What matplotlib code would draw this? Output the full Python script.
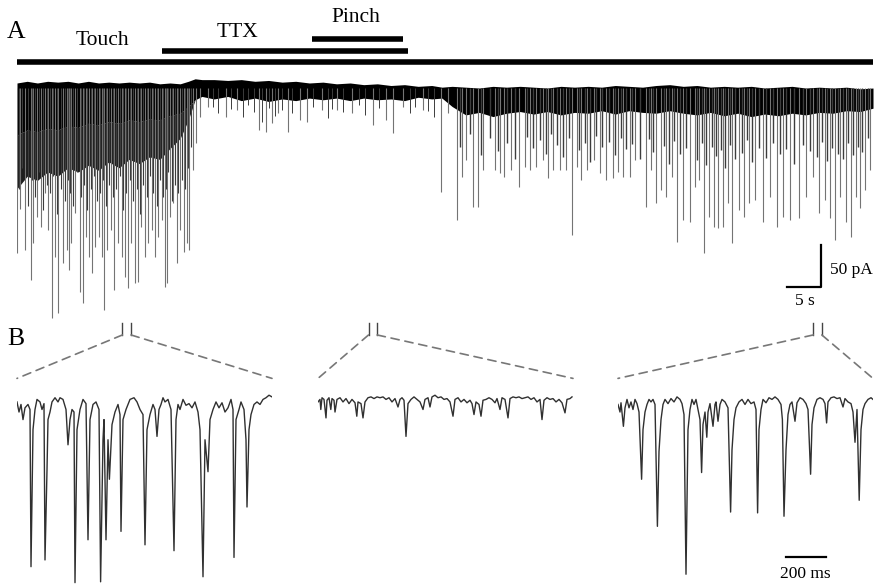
import matplotlib.pyplot as plt
from matplotlib.patches import ConnectionPatch

# ---------------- panel A: whole recording (time in s, current in pA) ----------------
# noise band: top edge and bottom of the solid black part
band_t = [0, 1.5, 3, 4.5, 6, 7.5, 9, 10.5, 12, 13.5,
          15, 16.5, 18, 19.5, 21, 22.5, 24, 25.2, 26.2, 27.2,
          29, 31, 33, 35, 37, 39, 41, 43, 45, 47,
          49, 51, 53, 55, 57, 59, 61, 62.5, 64, 66,
          68, 70, 72, 74, 76, 78, 80, 82, 84, 86,
          88, 90, 92, 94, 96, 98, 100, 102, 104, 106,
          108, 110, 112, 114, 116, 118, 120, 122, 124, 125.9]
band_top = [6, 8, 6, 8, 7, 8, 6, 8, 6, 7,
            6, 7, 6, 7, 5, 6, 5, 8, 11, 10,
            10, 9, 10, 8, 9, 7, 8, 6, 7, 5,
            6, 4, 5, 3, 4, 2, 3, 1, 2, 1,
            0, 2, 1, 2, 1, 0, 2, 1, 2, 1,
            3, 2, 1, 3, 4, 2, 3, 1, 2, 1,
            2, 0, 1, 2, 0, 1, 0, 1, -1, 0]
band_low = [-56, -50, -52, -48, -50, -45, -47, -42, -44, -40,
            -42, -38, -40, -37, -38, -33, -30, -22, -14, -10,
            -13, -10, -15, -12, -16, -13, -15, -12, -14, -12,
            -15, -12, -14, -13, -15, -11, -13, -12, -22, -32,
            -29, -34, -30, -28, -31, -28, -32, -29, -30, -27,
            -31, -27, -29, -30, -27, -30, -32, -29, -33, -30,
            -34, -31, -33, -30, -32, -29, -30, -27, -28, -24]
# dark overlap zone during touch (first 20 band points)
touch_dense = [-120, -105, -110, -100, -105, -95, -100, -92, -98, -88,
               -95, -85, -90, -82, -85, -72, -60, -38, -14, -10]

# large events (peak time, peak amplitude)
touch_t = [0.0, 0.5, 1.2, 2.0, 2.4, 3.0, 3.6, 4.1, 4.6, 5.1, 5.6, 6.1, 6.7, 7.3, 7.6, 8.0,
           8.5, 9.2, 9.7, 10.1, 10.6, 11.1, 11.5, 12.0, 12.5, 12.8, 13.3, 13.8, 14.3, 14.9,
           15.4, 15.9, 16.3, 16.8, 17.4, 17.8, 18.3, 18.8, 19.3, 19.8, 20.3, 20.8, 21.3,
           21.7, 22.0, 22.5, 23.0, 23.5, 24.0, 24.5, 25.0, 25.3, 25.9, 26.4, 26.9]
touch_i = [-196, -144, -193, -228, -184, -154, -165, -125, -169, -274, -201, -268, -208,
           -193, -217, -184, -149, -243, -256, -177, -201, -220, -189, -177, -201, -264,
           -193, -169, -240, -184, -201, -225, -238, -184, -232, -231, -165, -201, -184,
           -169, -201, -177, -157, -237, -232, -154, -137, -208, -169, -195, -184, -193,
           -98, -65, -35]
ttx_t = [28.1, 30.8, 32.3, 35.6, 36.6, 37.5, 38.4, 39.8, 41.6, 42.6, 44.8, 47.0, 49.2,
         52.4, 54.3, 55.3, 56.8, 59.7, 62.3, 63.4]
ttx_i = [-23, -35, -26, -50, -52, -42, -30, -52, -38, -40, -26, -26, -30, -44, -38, -54,
         -23, -26, -124, -30]
pinch_t = [64.7, 65.5, 66.1, 67.1, 67.8, 68.6, 70.3, 71.0, 71.6, 72.7, 73.9, 74.7, 75.4,
           76.3, 77.4, 78.1, 78.9, 79.9, 80.8, 81.6, 82.3, 83.0, 83.9, 84.8, 85.7, 86.6,
           87.6, 88.4, 89.2, 90.1, 90.9, 92.5, 93.3, 94.0, 94.7, 95.5, 96.3, 97.1, 97.9,
           99.0, 99.7, 100.3, 101.0, 101.8, 102.5, 103.1, 103.9, 104.6, 105.1, 106.2, 106.9,
           107.7, 108.5, 109.7, 110.7, 111.8, 112.6, 113.7, 115.0, 116.1, 117.1, 118.0,
           118.8, 119.6, 120.3, 121.1, 121.9, 122.6, 123.4, 124.0, 124.7, 125.4]
pinch_i = [-157, -106, -86, -142, -142, -98, -98, -101, -106, -98, -118, -94, -98, -94,
           -86, -107, -98, -98, -98, -175, -94, -109, -98, -86, -101, -109, -107, -100,
           -106, -106, -86, -142, -98, -137, -121, -130, -106, -183, -157, -159, -118,
           -109, -196, -154, -165, -167, -165, -137, -184, -145, -154, -137, -133, -159,
           -130, -165, -154, -157, -155, -130, -106, -149, -133, -155, -181, -130, -159,
           -177, -130, -143, -121, -98]

# smaller events in between
touch_minor_t = [0.25, 0.8, 1.6, 2.2, 2.7, 3.3, 3.8, 4.35, 4.85, 5.35,
                 5.85, 6.4, 7.0, 7.45, 7.8, 8.25, 8.85, 9.45, 9.9, 10.35,
                 10.85, 11.3, 11.75, 12.25, 12.65, 13.05, 13.55, 14.05, 14.6, 15.15,
                 15.65, 16.1, 16.55, 17.1, 17.6, 18.05, 18.55, 19.05, 19.55, 20.05,
                 20.55, 21.05, 21.5, 21.85, 22.25, 22.75, 23.25, 23.75, 24.25, 24.75,
                 25.15, 25.6]
touch_minor_i = [-120, -95, -140, -110, -130, -100, -145, -115, -125, -105,
                 -150, -120, -135, -110, -125, -140, -100, -130, -115, -145,
                 -120, -105, -135, -125, -110, -140, -115, -130, -120, -105,
                 -145, -125, -110, -135, -120, -150, -115, -130, -105, -125,
                 -140, -110, -130, -120, -100, -135, -115, -125, -110, -120,
                 -95, -70]
ttx_minor_t = [28.9, 29.6, 31.5, 33.2, 34.0, 34.8, 36.0, 37.0, 38.0, 39.0, 40.5,
               43.5, 45.8, 46.3, 48.0, 50.3, 51.2, 53.3, 57.8, 58.6, 60.5, 61.3]
ttx_minor_i = [-22, -30, -25, -35, -20, -28, -40, -24, -33, -26, -30,
               -22, -36, -25, -28, -20, -32, -24, -30, -22, -27, -34]
pinch_minor_t = [65.1, 66.6, 68.2, 69.5, 70.7, 72.1, 73.3, 75.0, 75.9, 76.9,
                 77.8, 78.5, 79.4, 80.3, 81.2, 82.7, 83.5, 84.3, 85.2, 86.1,
                 87.1, 88.0, 88.8, 89.6, 90.5, 91.7, 92.9, 93.6, 95.1, 95.9,
                 96.7, 97.5, 98.4, 100.0, 100.7, 101.4, 102.2, 102.8, 103.5, 104.2,
                 104.9, 105.6, 106.6, 107.3, 108.1, 109.1, 110.2, 111.2, 112.2, 113.1,
                 114.3, 115.6, 116.6, 117.6, 118.4, 119.2, 119.9, 120.7, 121.5, 122.2,
                 123.0, 123.7, 124.3, 125.1]
pinch_minor_i = [-70, -55, -80, -60, -75, -65, -85, -58, -72, -62,
                 -78, -55, -68, -82, -60, -74, -66, -88, -57, -70,
                 -64, -80, -59, -73, -67, -84, -61, -76, -69, -90,
                 -63, -79, -72, -86, -65, -92, -70, -81, -74, -95,
                 -68, -85, -77, -62, -88, -71, -83, -66, -79, -73,
                 -90, -68, -75, -82, -64, -87, -72, -78, -85, -66,
                 -80, -70, -76, -60]

# stimulus bars (start, end in s)
stim_names = ["Touch", "TTX", "Pinch"]
stim_start = [0.0, 21.3, 43.4]
stim_end = [125.9, 57.5, 56.7]

# start of the three expanded 1.275 s windows shown in B
win_start = [15.5, 51.7, 117.1]
win_len = 1.275

# ---------------- panel B: expanded traces (time in ms, current in pA) ----------------
b1_t = [0, 10, 20, 30, 40, 55, 65, 70, 80, 90, 100, 115, 125, 135, 140, 150, 155, 165, 175,
        190, 205, 215, 230, 245, 255, 265, 275, 285, 290, 300, 315, 330, 345, 355, 365, 380,
        395, 410, 418, 430, 435, 445, 455, 462, 475, 490, 505, 515, 520, 530, 545, 565, 585,
        600, 615, 630, 640, 650, 665, 680, 690, 700, 710, 720, 730, 740, 755, 770, 785, 795,
        805, 815, 830, 845, 860, 875, 890, 905, 915, 930, 940, 955, 965, 980, 995, 1010,
        1025, 1040, 1055, 1070, 1080, 1085, 1095, 1110, 1120, 1135, 1145, 1150, 1160, 1170,
        1185, 1200, 1215, 1230, 1245, 1260, 1275]
b1_i = [2, -10, -1, -19, -5, -1, -7, -194, -31, -7, 5, 2, -7, 0, -186, -79, -19, -10, 2, 7,
        2, 7, 5, -7, -49, -19, -7, -10, -213, -31, -7, 5, 0, -162, -19, -1, 2, -7, -212, -43,
        -19, -162, -43, -90, -25, -10, -1, -13, -152, -19, -7, 5, 7, 2, -7, -13, -168, -31,
        -13, -1, -7, -39, -7, -1, 7, 2, 5, -7, -175, -19, -1, -7, 5, -2, 0, -5, 2, -10, -31,
        -206, -43, -81, -19, -7, 2, -5, 1, -10, -5, 5, -7, -183, -19, -7, 2, -7, -43, -123,
        -31, -13, -1, 2, -1, 5, 7, 10, 8]

b2_t = [0, 10, 14, 20, 30, 40, 45, 55, 64, 70, 80, 85, 95, 110, 125, 140, 155, 170, 185,
        194, 200, 215, 225, 235, 250, 265, 280, 295, 310, 325, 340, 355, 370, 385, 400, 410,
        420, 430, 440, 450, 465, 480, 495, 510, 525, 535, 550, 560, 570, 585, 600, 615, 630,
        645, 660, 675, 685, 700, 715, 730, 745, 760, 770, 780, 790, 805, 815, 825, 840, 855,
        870, 885, 895, 910, 920, 935, 950, 960, 975, 990, 1005, 1020, 1035, 1050, 1065, 1080,
        1095, 1110, 1120, 1130, 1145, 1160, 1175, 1190, 1205, 1220, 1235, 1245, 1260, 1270]
b2_i = [2, 5, -7, 7, 5, -17, 4, 7, -7, 6, 4, -10, 5, 7, 2, 6, 0, 5, 1, -15, 2, 0, -17, 2, 7,
        8, 6, 8, 7, 8, 5, 7, 2, 6, -4, 5, 7, 4, -39, 0, 5, 8, 5, 2, -7, 5, 7, -4, 8, 10, 7, 8,
        5, 6, 2, -15, 5, 7, 2, 5, 1, 4, 0, -13, 2, -1, -15, 4, 5, 7, 5, 1, 6, -7, 7, 5, -17,
        6, 8, 7, 8, 6, 7, 8, 5, 7, 2, 5, -19, 4, 7, 5, 6, 2, 5, 1, -11, 5, 6, 8]

b3_t = [0, 10, 15, 27, 35, 45, 55, 65, 75, 85, 95, 105, 118, 125, 135, 145, 155, 165, 175,
        185, 197, 205, 215, 225, 235, 250, 265, 280, 295, 310, 320, 330, 340, 350, 360, 370,
        380, 390, 400, 410, 418, 425, 435, 444, 450, 460, 475, 485, 490, 500, 510, 520, 535,
        550, 563, 570, 580, 590, 605, 620, 635, 650, 665, 680, 690, 698, 705, 715, 725, 740,
        755, 770, 785, 800, 815, 822, 830, 840, 850, 860, 870, 885, 895, 910, 925, 940, 950,
        963, 970, 980, 995, 1010, 1025, 1035, 1043, 1050, 1065, 1080, 1095, 1110, 1125, 1135,
        1150, 1165, 1175, 1185, 1195, 1206, 1215, 1225, 1235, 1250, 1265, 1275]
b3_i = [-1, -10, 1, -27, -5, 5, -5, 2, -7, 5, 0, -10, -90, -31, -10, -1, 5, 2, 5, -1, -146,
        -57, -19, -1, 5, 0, 6, 2, 8, 5, 0, -13, -203, -31, -7, 5, -1, 5, -7, -19, -82, -25,
        -10, -40, -10, 0, -27, -1, 2, -21, -1, 5, 2, -5, -129, -55, -19, -5, 2, 5, -1, 5, 0,
        2, -7, -130, -31, -7, 5, 1, 7, 5, 8, 5, -1, -19, -134, -55, -13, -1, 2, -21, 1, 7, 5,
        0, -7, -84, -25, -5, 5, 7, 5, 0, -23, 2, 7, 8, 6, 7, -4, 6, 2, 0, -10, -46, -7, -115,
        -31, -7, 0, 5, 7, 5]

serif = "Liberation Serif"

fig = plt.figure(figsize=(8.76, 5.86), dpi=100)

# panel A
axA = fig.add_axes([17 / 876, 1 - 340 / 586, 856 / 876, 340 / 586])
axA.set_xlim(0, 125.9)
axA.set_ylim(-300, 104.8)
axA.axis("off")

light = "#747474"
dark = "#3c3c3c"
axA.vlines(touch_t, 0, touch_i, color=light, lw=0.8)
axA.vlines(ttx_t, 0, ttx_i, color=light, lw=0.8)
axA.vlines(pinch_t, 0, pinch_i, color=light, lw=0.8)
axA.vlines(touch_minor_t, 0, touch_minor_i, color=dark, lw=0.8)
axA.vlines(ttx_minor_t, 0, ttx_minor_i, color=dark, lw=0.7)
axA.vlines(pinch_minor_t, 0, pinch_minor_i, color=dark, lw=1.0)
axA.fill_between(band_t[:20], band_low[:20], touch_dense, color="#1e1e1e", lw=0)
axA.fill_between(band_t, band_top, band_low, color="black", lw=0)

bar_y = [31, 44, 58]
for name, t0, t1, y in zip(stim_names, stim_start, stim_end, bar_y):
    axA.plot([t0, t1], [y, y], color="black", lw=4, solid_capstyle="butt", clip_on=False)
axA.text(12.5, 51, "Touch", ha="center", va="baseline", fontsize=15.5, family=serif)
axA.text(32.4, 61, "TTX", ha="center", va="baseline", fontsize=15.5, family=serif)
axA.text(49.9, 79, "Pinch", ha="center", va="baseline", fontsize=15.5, family=serif)

# scale bar 5 s / 50 pA
axA.plot([113.2, 118.2, 118.2], [-237, -237, -187], color="black", lw=1.6)
axA.text(119.6, -222, "50 pA", ha="left", va="baseline", fontsize=12.5, family=serif)
axA.text(115.9, -258, "5 s", ha="center", va="baseline", fontsize=12.5, family=serif)

fig.text(16 / 876, 1 - 38 / 586, "A", ha="center", va="baseline", fontsize=18.5, family=serif)
fig.text(16 / 876, 1 - 345 / 586, "B", ha="center", va="baseline", fontsize=18.5, family=serif)

# panel B
b_lefts = [17, 318, 618]
traces = [(b1_t, b1_i), (b2_t, b2_i), (b3_t, b3_i)]
axesB = []
for left, (tt, ii) in zip(b_lefts, traces):
    ax = fig.add_axes([left / 876, 0, 255 / 876, 216 / 586])
    ax.set_xlim(0, 1275)
    ax.set_ylim(-217, 40)
    ax.axis("off")
    ax.plot(tt, ii, color="#303030", lw=1.0)
    axesB.append(ax)

# 200 ms scale bar
axesB[2].plot([840, 1040], [-182, -182], color="black", lw=1.6)
axesB[2].text(935, -207, "200 ms", ha="center", va="baseline", fontsize=12.5, family=serif)

# brackets and dashed zoom lines
for t0, ax in zip(win_start, axesB):
    t1 = t0 + win_len
    for t in (t0, t1):
        axA.plot([t, t], [-280, -294], color="#444444", lw=1.0, clip_on=False)
    for ta, tb in ((t0, 0), (t1, 1275)):
        con = ConnectionPatch(xyA=(ta, -294), coordsA=axA.transData,
                              xyB=(tb, 30), coordsB=ax.transData,
                              color="#777777", lw=1.2, linestyle=(0, (5, 3.5)))
        fig.add_artist(con)

fig.savefig("out.png", dpi=100)
